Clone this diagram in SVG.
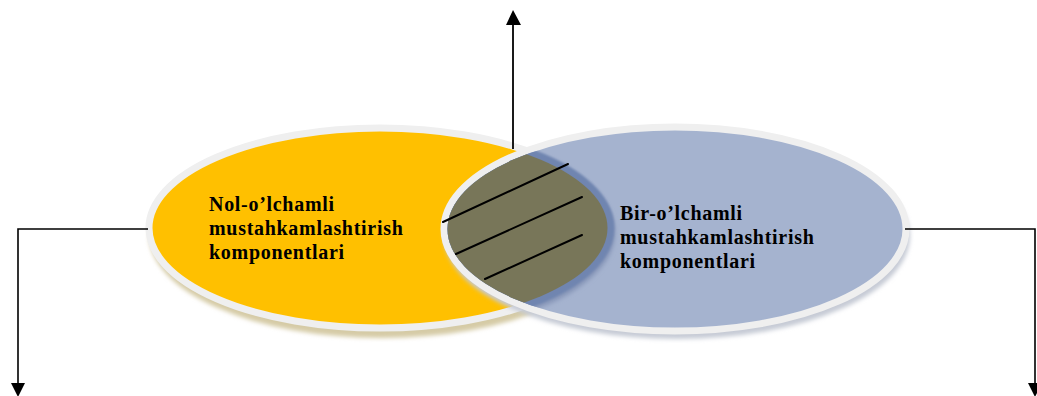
<svg xmlns="http://www.w3.org/2000/svg" width="1037" height="396" viewBox="0 0 1037 396">
<style>
.lbl{font-family:"Liberation Serif","Times New Roman",serif;font-weight:bold;font-size:20px;letter-spacing:0.7px;fill:#000}
.ring{stroke:#EFEFEF;stroke-width:7}
.conn{fill:none;stroke:#000;stroke-width:1.6}
.hatch{stroke:#000;stroke-width:2;stroke-linecap:round}
</style>
<defs>
<filter id="blur" x="-10%" y="-10%" width="120%" height="130%"><feGaussianBlur stdDeviation="2"/></filter>
<filter id="soft" x="-10%" y="-10%" width="120%" height="130%"><feGaussianBlur stdDeviation="0.8"/></filter>
<clipPath id="rightInner"><ellipse cx="675" cy="229" rx="227.5" ry="98.5"/></clipPath>
</defs>
<g id="node-left">
<ellipse cx="382" cy="235" rx="233" ry="103" fill="#D5CBA6" filter="url(#blur)"/>
<ellipse class="ring" cx="380" cy="228" rx="231" ry="100" fill="#FFC000"/>
<text class="lbl" x="209" y="211">Nol-o’lchamli</text>
<text class="lbl" x="209" y="235">mustahkamlashtirish</text>
<text class="lbl" x="209" y="259">komponentlari</text>
</g>
<g id="node-right">
<ellipse cx="677" cy="236" rx="233" ry="103" fill="#C6CBD5" filter="url(#blur)"/>
<ellipse class="ring" cx="675" cy="229" rx="231" ry="102" fill="#A5B3CF"/>
</g>
<g id="overlap">
<g clip-path="url(#rightInner)">
<ellipse cx="382" cy="233" rx="233" ry="102" fill="#8796B8" filter="url(#blur)"/>
<ellipse cx="380" cy="228" rx="231" ry="100" fill="#7085B0" stroke="#7085B0" stroke-width="7" filter="url(#soft)"/>
<ellipse cx="380" cy="228" rx="227.5" ry="96.5" fill="#787659"/>
</g>
<line class="hatch" x1="443" y1="222" x2="568" y2="164"/>
<line class="hatch" x1="456" y1="254" x2="582" y2="197"/>
<line class="hatch" x1="485" y1="279" x2="582" y2="235"/>
</g>
<g id="node-right-label">
<text class="lbl" x="620" y="220">Bir-o’lchamli</text>
<text class="lbl" x="620" y="244">mustahkamlashtirish</text>
<text class="lbl" x="620" y="268">komponentlari</text>
</g>
<g id="connectors">
<line x1="513" y1="149" x2="513" y2="22" stroke="#1a1a1a" stroke-width="2"/>
<polygon points="513,10 506,25 521,25" fill="#000"/>
<polyline class="conn" points="148,229 18,229 18,385"/>
<polygon points="18,397 11,383 25,383" fill="#000"/>
<polyline class="conn" points="905,229 1035,229 1035,385"/>
<polygon points="1035,397 1028,383 1042,383" fill="#000"/>
</g>
</svg>
